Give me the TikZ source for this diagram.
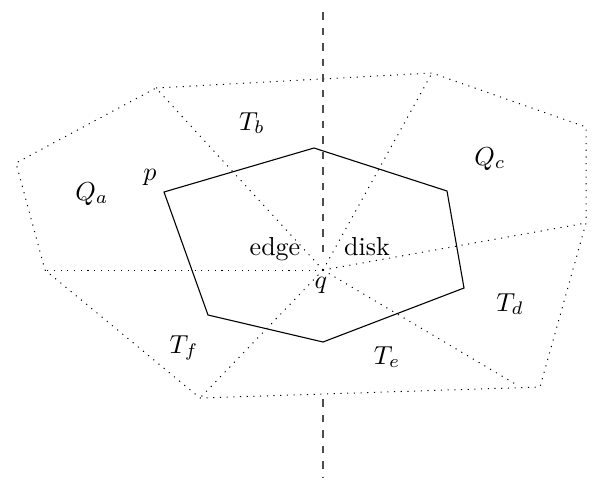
\documentclass[tikz,border=0pt]{standalone}
\usepackage{amsmath,amssymb}
\usepackage{graphicx}
\usepackage{tikz}
\usetikzlibrary{positioning,calc}

\newcommand{\biglbl}[1]{\scalebox{2.6}{#1}}

\begin{document}
\begin{tikzpicture}[x=1pt, y=-1pt]
        \tikzset{
            mesh/.style={draw, line width=1pt, dash pattern=on 1.1pt off 5.6pt},
            poly/.style={draw, line width=1.1pt, line join=miter},
            axis/.style={draw=black!70, line width=1.4pt, dash pattern=on 7.5pt off 8pt},
            lbl/.style={anchor=base, inner sep=0pt}
        }
        \useasboundingbox (0,0) rectangle (593,479);

        % Outer cells
        \coordinate (ta) at (156,88);
        \coordinate (tb) at (432,73);
        \coordinate (tc) at (586,127);
        \coordinate (td) at (586,223);
        \coordinate (te) at (540,387);
        \coordinate (tf) at (200,398);
        \coordinate (tg) at (45,270);
        \coordinate (th) at (16,163);
        \coordinate (tk) at (517,385);
        \coordinate (q) at (323,270);

        \draw [mesh] (ta) -- (tb) -- (tc) -- (td) -- (te) -- (tf) -- (tg) -- (th) -- cycle;

        % Fan around q
        \draw [mesh] (q) -- (ta);
        \draw [mesh] (q) -- (tb);
        \draw [mesh] (q) -- (td);
        \draw [mesh] (q) -- (tk);
        \draw [mesh] (q) -- (tf);
        \draw [mesh] (q) -- (tg);

        % Polygon
        \coordinate (p) at (164,192);
        \coordinate (h2) at (314,148);
        \coordinate (h3) at (447,191);
        \coordinate (h4) at (464,288);
        \coordinate (h5) at (323,342);
        \coordinate (h6) at (208,315);
        \draw [poly] (p) -- (h2) -- (h3) -- (h4) -- (h5) -- (h6) -- cycle;

        % Vertical axis
        \coordinate (top) at (323,12);
        \coordinate (above) at (323,257);
        \coordinate (below) at (323,399);
        \coordinate (bot) at (323,478);
        \draw [axis] (top) -- (above);
        \draw [axis] (below) -- (bot);

        % Labels
        \node [lbl] (lqa) at (92,200) {\biglbl{$Q_a$}};
        \node [lbl] (lp) at (150,180) {\biglbl{$p$}};
        \node [lbl] (ltb) at (252,130) {\biglbl{$T_b$}};
        \node [lbl] (lqc) at (490,165) {\biglbl{$Q_c$}};
        \node [lbl] (ledge) at (275,255) {\biglbl{edge}};
        \node [lbl] (ldisk) at (367,255) {\biglbl{disk}};
        \node [lbl] (lq) at (321,288) {\biglbl{$q$}};
        \node [lbl] (ltd) at (510,311) {\biglbl{$T_d$}};
        \node [lbl] (ltf) at (184,353) {\biglbl{$T_f$}};
        \node [lbl] (lte) at (387,364) {\biglbl{$T_e$}};

    \end{tikzpicture}
\end{document}
